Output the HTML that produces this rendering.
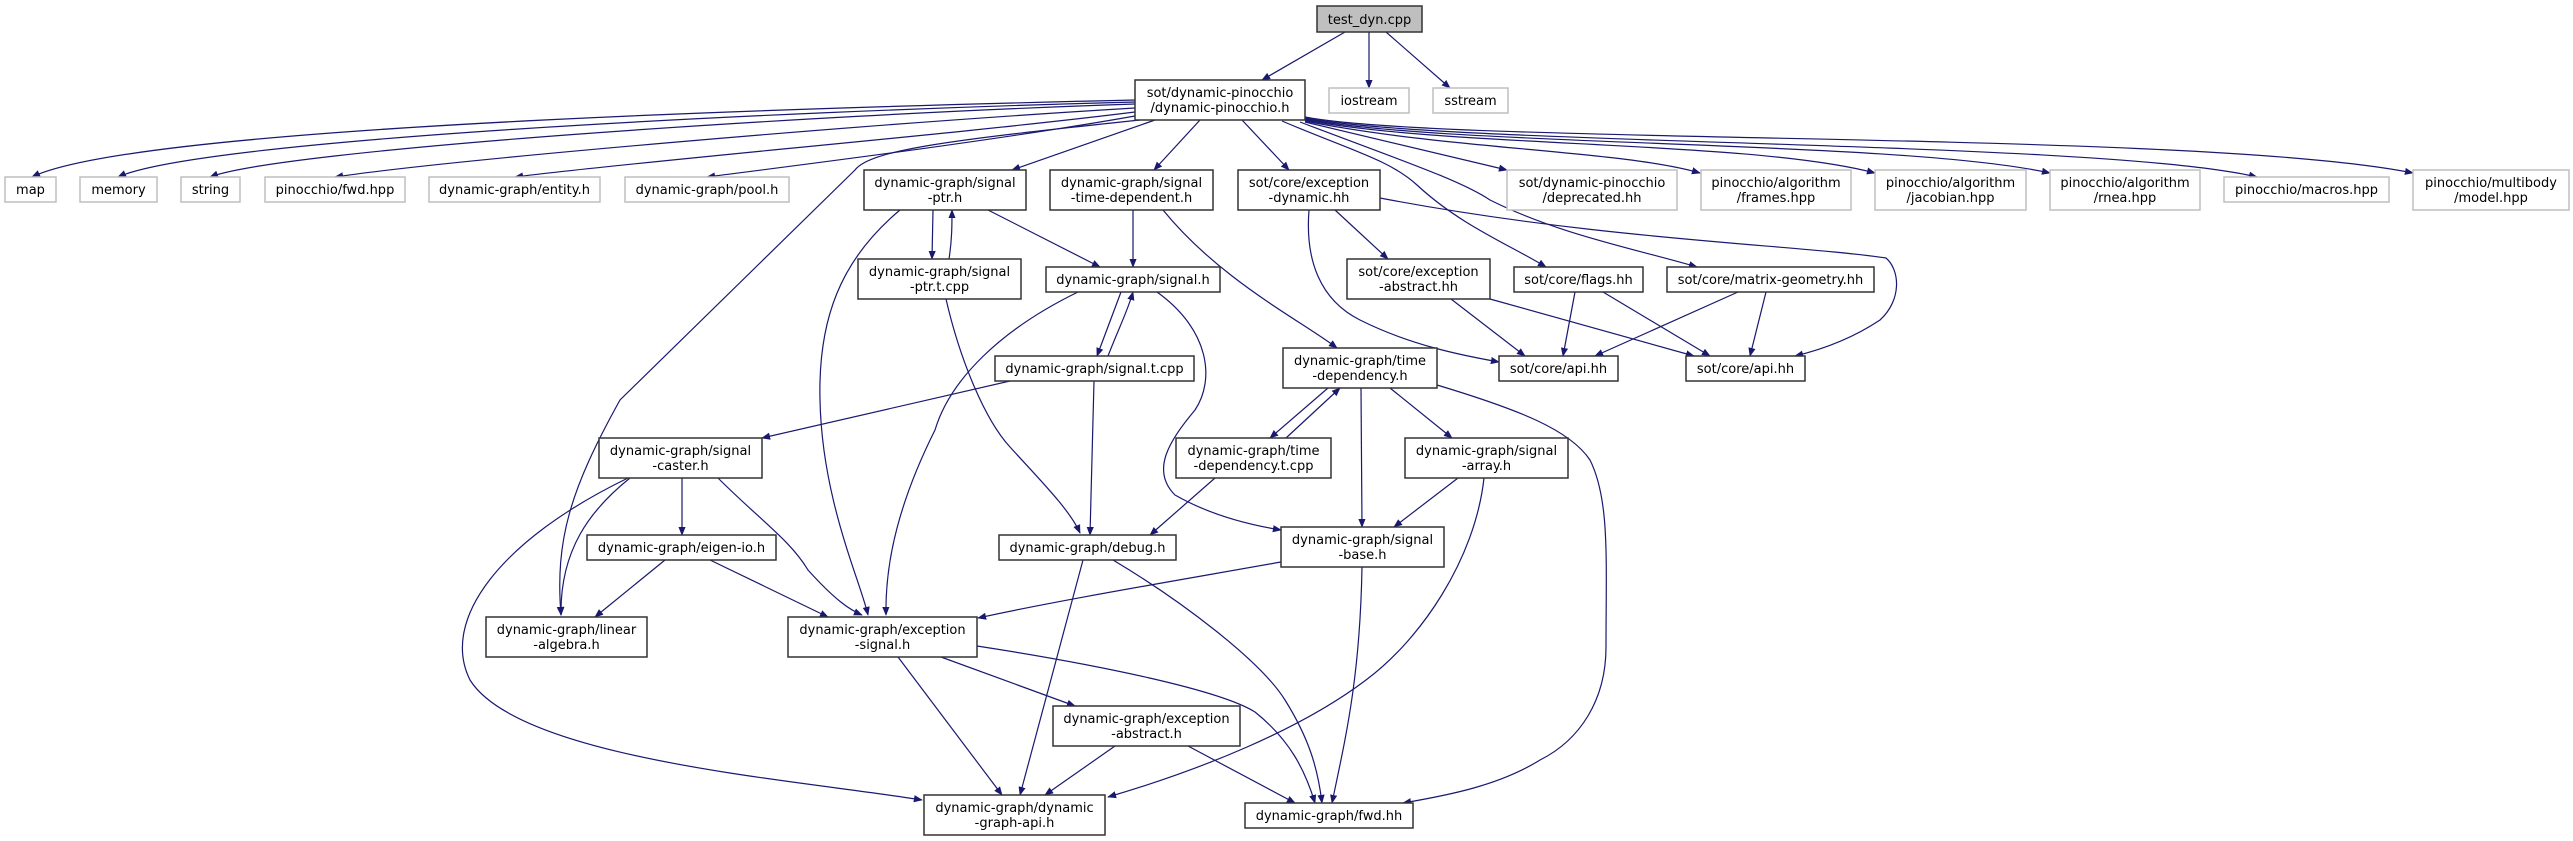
<!DOCTYPE html>
<html><head><meta charset="utf-8"><style>
html,body{margin:0;padding:0;background:#fff}
svg{display:block}
text{font-family:"DejaVu Sans","Liberation Sans",sans-serif;font-size:13px;fill:#000}
.n{fill:#fff;stroke:#333;stroke-width:1.5}
.g{fill:#fff;stroke:#bfbfbf;stroke-width:1.5}
.r{fill:#bfbfbf;stroke:#333;stroke-width:1.5}
path.e{fill:none;stroke:#191970;stroke-width:1.2;marker-end:url(#a)}
</style></head><body>
<svg width="2573" height="841" viewBox="0 0 2573 841" xmlns="http://www.w3.org/2000/svg">
<defs><marker id="a" viewBox="0 0 10 10" refX="9" refY="5" markerWidth="9" markerHeight="9" markerUnits="userSpaceOnUse" orient="auto"><path d="M0,1 L10,5 L0,9 z" fill="#191970"/></marker></defs>

<!-- edges -->
<path class="e" d="M1345,32 L1262,80"/>
<path class="e" d="M1369,32 L1369,88"/>
<path class="e" d="M1386,32 L1450,88"/>

<path class="e" d="M1135,100 C 700,110 130,130 32,177"/>
<path class="e" d="M1135,102 C 750,112 200,140 118,177"/>
<path class="e" d="M1135,104 C 800,115 280,150 210,177"/>
<path class="e" d="M1135,108 C 850,125 450,160 335,177"/>
<path class="e" d="M1135,112 C 950,135 650,160 515,177"/>
<path class="e" d="M1135,116 C 1000,140 800,165 707,177"/>
<path class="e" d="M1140,120 C 950,140 870,150 855,170 L 620,400 C 570,490 555,540 561,615"/>
<path class="e" d="M1155,120 L1012,170"/>
<path class="e" d="M1200,120 L1154,170"/>
<path class="e" d="M1242,120 L1289,170"/>
<path class="e" d="M1282,121 C 1350,150 1390,160 1417,185 C 1460,225 1510,245 1546,267"/>
<path class="e" d="M1300,122 C 1400,160 1460,180 1490,200 C 1560,235 1640,250 1697,267"/>
<path class="e" d="M1305,122 L1507,170"/>
<path class="e" d="M1305,121 C 1450,150 1620,150 1700,173"/>
<path class="e" d="M1305,120 C 1450,148 1750,140 1875,173"/>
<path class="e" d="M1305,119 C 1450,147 1900,140 2050,173"/>
<path class="e" d="M1305,118 C 1450,146 2100,140 2257,177"/>
<path class="e" d="M1305,117 C 1450,145 2200,130 2413,173"/>

<path class="e" d="M933,210 L932,259"/>
<path class="e" d="M949,259 C 952,240 952,225 952,210"/>
<path class="e" d="M988,210 L1100,267"/>
<path class="e" d="M900,210 C 840,260 818,320 820,400 C 822,500 860,580 868,615"/>
<path class="e" d="M946,299 C 960,360 985,420 1010,447 C 1040,480 1070,510 1080,533"/>
<path class="e" d="M1133,210 L1133,267"/>
<path class="e" d="M1163,210 C 1220,280 1300,320 1337,348"/>
<path class="e" d="M1121,292 L1097,356"/>
<path class="e" d="M1108,356 C 1118,330 1128,310 1133,292"/>
<path class="e" d="M1078,292 C 1000,330 950,380 935,430 C 900,500 885,560 886,615"/>
<path class="e" d="M1157,292 C 1210,330 1215,380 1195,410 C 1170,440 1150,470 1175,495 C 1210,515 1250,525 1281,530"/>
<path class="e" d="M1010,381 L762,438"/>
<path class="e" d="M1094,381 L1090,535"/>
<path class="e" d="M1335,210 L1388,259"/>
<path class="e" d="M1309,210 C 1305,260 1320,300 1360,320 C 1410,345 1460,355 1499,362"/>
<path class="e" d="M1380,198 C 1600,240 1800,245 1886,258 C 1900,270 1902,300 1880,320 C 1850,340 1820,350 1795,356"/>
<path class="e" d="M1451,299 L1525,356"/>
<path class="e" d="M1490,299 L1694,356"/>
<path class="e" d="M1575,292 L1563,356"/>
<path class="e" d="M1603,292 L1710,356"/>
<path class="e" d="M1738,292 L1595,356"/>
<path class="e" d="M1766,292 L1750,356"/>

<path class="e" d="M1328,388 L1270,438"/>
<path class="e" d="M1286,438 L1340,388"/>
<path class="e" d="M1361,388 L1362,527"/>
<path class="e" d="M1390,388 L1452,438"/>
<path class="e" d="M1437,385 C 1520,410 1570,430 1590,460 C 1610,500 1606,560 1606,647 C 1606,700 1580,740 1540,760 C 1500,785 1450,795 1403,803"/>
<path class="e" d="M1215,478 L1150,535"/>
<path class="e" d="M1458,478 L1394,527"/>
<path class="e" d="M1484,478 C 1475,560 1420,640 1366,680 C 1300,730 1200,770 1108,797"/>
<path class="e" d="M1281,562 C 1180,580 1060,600 978,618"/>
<path class="e" d="M1362,567 C 1360,680 1345,740 1332,803"/>
<path class="e" d="M682,478 L682,535"/>
<path class="e" d="M630,478 C 590,510 560,550 561,615"/>
<path class="e" d="M718,478 C 760,520 790,540 808,570 C 835,600 850,610 862,615"/>
<path class="e" d="M628,478 C 500,540 440,620 470,680 C 520,760 800,780 922,800"/>
<path class="e" d="M665,560 L595,617"/>
<path class="e" d="M710,560 L828,617"/>
<path class="e" d="M1083,560 L1020,795"/>
<path class="e" d="M1113,560 C 1180,600 1260,660 1285,700 C 1310,740 1318,770 1322,803"/>
<path class="e" d="M898,657 L1002,795"/>
<path class="e" d="M941,657 L1075,706"/>
<path class="e" d="M977,646 C 1100,665 1220,690 1255,712 C 1290,740 1305,770 1315,803"/>
<path class="e" d="M1115,746 L1045,795"/>
<path class="e" d="M1188,746 L1295,803"/>

<!-- nodes -->
<rect class="r" x="1317" y="6" width="105" height="26"/><text x="1369.5" y="24" text-anchor="middle">test_dyn.cpp</text>
<rect class="n" x="1135" y="80" width="170" height="40"/><text x="1220" y="97" text-anchor="middle">sot/dynamic-pinocchio</text><text x="1220" y="112" text-anchor="middle">/dynamic-pinocchio.h</text>
<rect class="g" x="1329" y="88" width="80" height="25"/><text x="1369" y="105" text-anchor="middle">iostream</text>
<rect class="g" x="1433" y="88" width="75" height="25"/><text x="1470.5" y="105" text-anchor="middle">sstream</text>

<rect class="g" x="5" y="177" width="51" height="25"/><text x="30.5" y="194" text-anchor="middle">map</text>
<rect class="g" x="80" y="177" width="77" height="25"/><text x="118.5" y="194" text-anchor="middle">memory</text>
<rect class="g" x="181" y="177" width="59" height="25"/><text x="210.5" y="194" text-anchor="middle">string</text>
<rect class="g" x="265" y="177" width="140" height="25"/><text x="335" y="194" text-anchor="middle">pinocchio/fwd.hpp</text>
<rect class="g" x="429" y="177" width="171" height="25"/><text x="514.5" y="194" text-anchor="middle">dynamic-graph/entity.h</text>
<rect class="g" x="625" y="177" width="164" height="25"/><text x="707" y="194" text-anchor="middle">dynamic-graph/pool.h</text>
<rect class="n" x="864" y="170" width="162" height="40"/><text x="945" y="187" text-anchor="middle">dynamic-graph/signal</text><text x="945" y="202" text-anchor="middle">-ptr.h</text>
<rect class="n" x="1050" y="170" width="163" height="40"/><text x="1131.5" y="187" text-anchor="middle">dynamic-graph/signal</text><text x="1131.5" y="202" text-anchor="middle">-time-dependent.h</text>
<rect class="n" x="1238" y="170" width="142" height="40"/><text x="1309" y="187" text-anchor="middle">sot/core/exception</text><text x="1309" y="202" text-anchor="middle">-dynamic.hh</text>
<rect class="g" x="1507" y="170" width="170" height="40"/><text x="1592" y="187" text-anchor="middle">sot/dynamic-pinocchio</text><text x="1592" y="202" text-anchor="middle">/deprecated.hh</text>
<rect class="g" x="1701" y="170" width="150" height="40"/><text x="1776" y="187" text-anchor="middle">pinocchio/algorithm</text><text x="1776" y="202" text-anchor="middle">/frames.hpp</text>
<rect class="g" x="1875" y="170" width="151" height="40"/><text x="1950.5" y="187" text-anchor="middle">pinocchio/algorithm</text><text x="1950.5" y="202" text-anchor="middle">/jacobian.hpp</text>
<rect class="g" x="2050" y="170" width="150" height="40"/><text x="2125" y="187" text-anchor="middle">pinocchio/algorithm</text><text x="2125" y="202" text-anchor="middle">/rnea.hpp</text>
<rect class="g" x="2224" y="177" width="165" height="25"/><text x="2306.5" y="194" text-anchor="middle">pinocchio/macros.hpp</text>
<rect class="g" x="2413" y="170" width="156" height="40"/><text x="2491" y="187" text-anchor="middle">pinocchio/multibody</text><text x="2491" y="202" text-anchor="middle">/model.hpp</text>

<rect class="n" x="858" y="259" width="163" height="40"/><text x="939.5" y="276" text-anchor="middle">dynamic-graph/signal</text><text x="939.5" y="291" text-anchor="middle">-ptr.t.cpp</text>
<rect class="n" x="1046" y="267" width="174" height="25"/><text x="1133" y="284" text-anchor="middle">dynamic-graph/signal.h</text>
<rect class="n" x="1347" y="259" width="143" height="40"/><text x="1418.5" y="276" text-anchor="middle">sot/core/exception</text><text x="1418.5" y="291" text-anchor="middle">-abstract.hh</text>
<rect class="n" x="1514" y="267" width="129" height="25"/><text x="1578.5" y="284" text-anchor="middle">sot/core/flags.hh</text>
<rect class="n" x="1667" y="267" width="207" height="25"/><text x="1770.5" y="284" text-anchor="middle">sot/core/matrix-geometry.hh</text>

<rect class="n" x="995" y="356" width="199" height="25"/><text x="1094.5" y="373" text-anchor="middle">dynamic-graph/signal.t.cpp</text>
<rect class="n" x="1283" y="348" width="154" height="40"/><text x="1360" y="365" text-anchor="middle">dynamic-graph/time</text><text x="1360" y="380" text-anchor="middle">-dependency.h</text>
<rect class="n" x="1499" y="356" width="119" height="25"/><text x="1558.5" y="373" text-anchor="middle">sot/core/api.hh</text>
<rect class="n" x="1686" y="356" width="119" height="25"/><text x="1745.5" y="373" text-anchor="middle">sot/core/api.hh</text>

<rect class="n" x="599" y="438" width="163" height="40"/><text x="680.5" y="455" text-anchor="middle">dynamic-graph/signal</text><text x="680.5" y="470" text-anchor="middle">-caster.h</text>
<rect class="n" x="1176" y="438" width="155" height="40"/><text x="1253.5" y="455" text-anchor="middle">dynamic-graph/time</text><text x="1253.5" y="470" text-anchor="middle">-dependency.t.cpp</text>
<rect class="n" x="1405" y="438" width="163" height="40"/><text x="1486.5" y="455" text-anchor="middle">dynamic-graph/signal</text><text x="1486.5" y="470" text-anchor="middle">-array.h</text>
<rect class="n" x="587" y="535" width="189" height="25"/><text x="681.5" y="552" text-anchor="middle">dynamic-graph/eigen-io.h</text>
<rect class="n" x="999" y="535" width="177" height="25"/><text x="1087.5" y="552" text-anchor="middle">dynamic-graph/debug.h</text>
<rect class="n" x="1281" y="527" width="163" height="40"/><text x="1362.5" y="544" text-anchor="middle">dynamic-graph/signal</text><text x="1362.5" y="559" text-anchor="middle">-base.h</text>
<rect class="n" x="486" y="617" width="161" height="40"/><text x="566.5" y="634" text-anchor="middle">dynamic-graph/linear</text><text x="566.5" y="649" text-anchor="middle">-algebra.h</text>
<rect class="n" x="788" y="617" width="189" height="40"/><text x="882.5" y="634" text-anchor="middle">dynamic-graph/exception</text><text x="882.5" y="649" text-anchor="middle">-signal.h</text>
<rect class="n" x="1053" y="706" width="187" height="40"/><text x="1146.5" y="723" text-anchor="middle">dynamic-graph/exception</text><text x="1146.5" y="738" text-anchor="middle">-abstract.h</text>
<rect class="n" x="924" y="795" width="181" height="40"/><text x="1014.5" y="812" text-anchor="middle">dynamic-graph/dynamic</text><text x="1014.5" y="827" text-anchor="middle">-graph-api.h</text>
<rect class="n" x="1245" y="803" width="168" height="25"/><text x="1329" y="820" text-anchor="middle">dynamic-graph/fwd.hh</text>
</svg>
</body></html>
